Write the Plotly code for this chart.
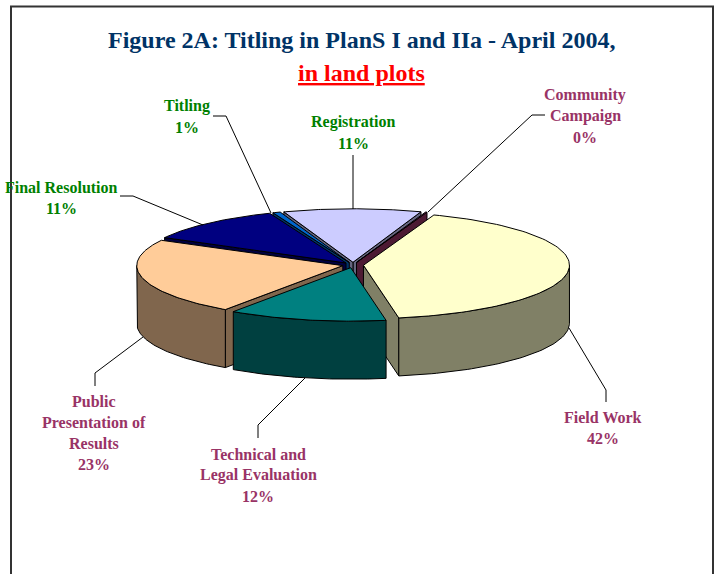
import numpy as np
import plotly.graph_objects as go

# ---- data (clockwise from the start angle) ----
categories = ["Registration", "Community Campaign", "Field Work",
              "Technical and Legal Evaluation", "Public Presentation of Results",
              "Final Resolution", "Titling"]
values = [10.8, 0.2, 41.7, 12.4, 23.2, 11.1, 0.6]
label_lines = [["Registration"], ["Community", "Campaign"], ["Field Work"],
               ["Technical and", "Legal Evaluation"], ["Public", "Presentation of", "Results"],
               ["Final Resolution"], ["Titling"]]

# ---- styles and layout ----
top_colors = ["#CCCCFF", "#993366", "#FFFFCC", "#008080", "#FFCC99", "#000080", "#0066CC"]
side_colors = ["#666680", "#4D1A33", "#808066", "#004040", "#80664D", "#000040", "#003366"]
label_colors = ["#008000", "#993366", "#993366", "#993366", "#993366", "#008000", "#008000"]
label_pos = [(353, 122), (585, 95), (603, 417), (258, 454), (94, 401), (61, 187), (187, 106)]
leaders = [
    [(353, 155), (353, 209)],
    [(545, 115), (532, 115), (428, 212)],
    [(569, 328), (606, 390), (606, 402)],
    [(258, 438), (258, 425), (305, 378)],
    [(95, 386), (95, 373), (143, 337)],
    [(120, 196), (133, 196), (203, 225)],
    [(213, 116), (226, 116), (271, 213)],
]
draw_order = [0, 6, 5, 1, 4, 2, 3]
CX, CY, RX, RY, DEPTH = 353, 265, 206, 53.5, 58
EXPLODE = 10.5
START = -19.6
LINE_H = 21
FONT = "Liberation Serif"

total = sum(values)
edges = START + np.concatenate([[0], np.cumsum(values)]) * 360 / total


def rim(t, cx, cy):
    r = np.radians(t)
    return cx + RX * np.sin(r), cy - RY * np.cos(r)


fig = go.Figure()


def poly(xs, ys, color):
    fig.add_trace(go.Scatter(x=list(xs) + [xs[0]], y=list(ys) + [ys[0]], mode="lines",
                             fill="toself", fillcolor=color,
                             line=dict(color="#000000", width=1),
                             hoverinfo="skip", showlegend=False))


for i in draw_order:
    t0, t1 = edges[i], edges[i + 1]
    mid = np.radians((t0 + t1) / 2)
    cx = CX + EXPLODE * np.sin(mid)
    cy = CY - EXPLODE * RY / RX * np.cos(mid)
    for t, visible in ((t1, np.sin(np.radians(t1)) > 0), (t0, np.sin(np.radians(t0)) < 0)):
        if visible:
            x, y = rim(t, cx, cy)
            poly([cx, x, x, cx], [cy, y, y + DEPTH, cy + DEPTH], side_colors[i])
    a, b = max(t0, 90), min(t1, 270)
    if b > a:
        ts = np.linspace(a, b, 60)
        x, y = rim(ts, cx, cy)
        poly(np.r_[x, x[::-1]], np.r_[y, y[::-1] + DEPTH], side_colors[i])
    ts = np.linspace(t0, t1, 90)
    x, y = rim(ts, cx, cy)
    poly(np.r_[cx, x], np.r_[cy, y], top_colors[i])

for pts in leaders:
    fig.add_trace(go.Scatter(x=[p[0] for p in pts], y=[p[1] for p in pts], mode="lines",
                             line=dict(color="#000000", width=1),
                             hoverinfo="skip", showlegend=False))


def text(x, y, s, color, size):
    fig.add_annotation(x=x, y=y, xref="x", yref="y", text=f"<b>{s}</b>", showarrow=False,
                       xanchor="center", yanchor="middle",
                       font=dict(family=FONT, size=size, color=color))


text(361, 40, "Figure 2A: Titling in PlanS I and IIa - April 2004,", "#003366", 24)
text(361, 73, "<u>in land plots</u>", "#FF0000", 24)

for i, lines in enumerate(label_lines):
    x, y = label_pos[i]
    for k, s in enumerate(lines + [f"{round(values[i])}%"]):
        text(x, y + k * LINE_H, s, label_colors[i], 16)

fig.add_shape(type="path", path="M 11 600 L 11 6.5 L 713 6.5 L 713 600", xref="x", yref="y",
              line=dict(color="#333333", width=2))

fig.update_layout(width=714, height=574, margin=dict(l=0, r=0, t=0, b=0),
                  paper_bgcolor="#FFFFFF", plot_bgcolor="#FFFFFF", showlegend=False,
                  xaxis=dict(range=[0, 714], visible=False, fixedrange=True),
                  yaxis=dict(range=[574, 0], visible=False, fixedrange=True))
fig.write_html("out.html", config={"displayModeBar": False},
               post_script="document.body.style.margin='0';document.documentElement.style.overflow='hidden';")
